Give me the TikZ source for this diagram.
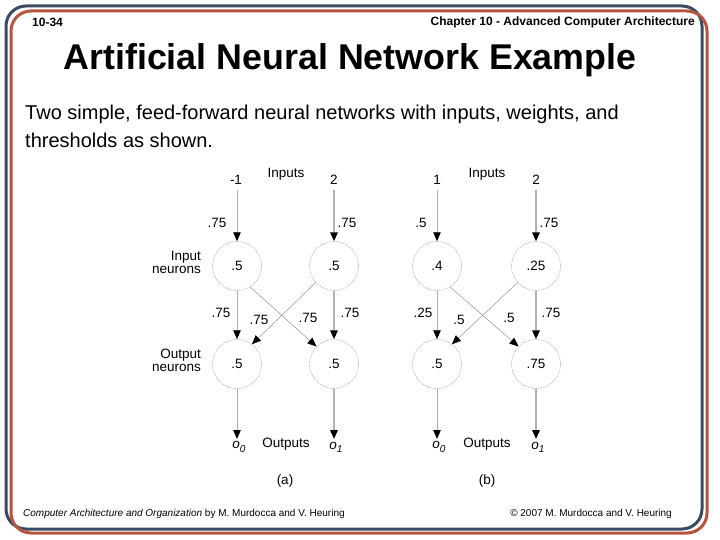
\documentclass[tikz,border=0pt]{standalone}
\usepackage{fontspec}
\setmainfont{Liberation Sans}
\usetikzlibrary{arrows.meta}
\definecolor{frameblue}{HTML}{3A4A64}
\definecolor{framered}{HTML}{B4553F}
\tikzset{
  neuron/.style={circle,draw=gray!70,dash pattern=on 1.5pt off 1pt,line width=0.5pt,minimum size=49pt,inner sep=0pt,font=\fontsize{13.5}{15}\selectfont},
  lbl/.style={inner sep=0pt,font=\fontsize{13.5}{15}\selectfont},
  thinarr/.style={draw=gray!65,line width=0.9pt,-{Triangle[length=9pt,width=7.5pt,color=black]}},
  thickarr/.style={draw=gray!60,line width=1.8pt,-{Triangle[length=9pt,width=7.5pt,color=black]}},
  crossarr/.style={draw=gray!85,line width=0.5pt,-{Triangle[length=9pt,width=7.5pt,color=black]}},
  frameline/.style={line width=3pt,rounded corners=20pt}
}
\newcommand{\osub}[1]{\textit{o}\raisebox{-0.45ex}{\fontsize{10}{12}\selectfont\itshape #1}}
\begin{document}
\begin{tikzpicture}[x=1pt,y=-1pt]
\useasboundingbox (0,0) rectangle (720,540);
% frame
\draw[frameline,frameblue] (6,6) rectangle (702,529);
\draw[frameline,framered] (11,11) rectangle (707,533);
% header
\node[anchor=west,inner sep=0pt,font=\bfseries\fontsize{12}{14}\selectfont] (pg) at (32,22) {10-34};
\node[anchor=east,inner sep=0pt,font=\bfseries\fontsize{12}{14}\selectfont] (ch) at (695,22) {Chapter 10 - Advanced Computer Architecture};
\node[inner sep=0pt,font=\bfseries\fontsize{35.8}{40}\selectfont] (title) at (350,60) {Artificial Neural Network Example};
\node[anchor=west,inner sep=0pt,font=\fontsize{20}{26}\selectfont] (b1) at (25,114) {Two simple, feed-forward neural networks with inputs, weights, and};
\node[anchor=west,inner sep=0pt,font=\fontsize{20}{26}\selectfont] (b2) at (25,140) {thresholds as shown.};
% footer
\node[anchor=west,inner sep=0pt,font=\fontsize{10}{11}\selectfont] (f1) at (23,514) {\textit{Computer Architecture and Organization} by M. Murdocca and V. Heuring};
\node[anchor=east,inner sep=0pt,font=\fontsize{10}{11}\selectfont] (f2) at (672,514) {© 2007 M. Murdocca and V. Heuring};

% ---------- network (a) ----------
\node[neuron] (aiL) at (237,266) {.5};
\node[neuron] (aiR) at (334,266) {.5};
\node[neuron] (aoL) at (237,364) {.5};
\node[neuron] (aoR) at (334,364) {.5};
\node[lbl] (aInL) at (236,180) {-1};
\node[lbl] (aInR) at (334,180) {2};
\node[lbl] (aIn) at (286,174) {Inputs};
\coordinate (aSL) at (237,190);
\coordinate (aSR) at (334,190);
\draw[thinarr] (aSL) -- (aiL);
\draw[thickarr] (aSR) -- (aiR);
\node[lbl] (aw1) at (217,223) {.75};
\node[lbl] (aw2) at (347,223) {.75};
\node[lbl,align=right,anchor=east] (aInN) at (201,262) {Input\\[-2pt]neurons};
\node[lbl,align=right,anchor=east] (aOutN) at (201,360) {Output\\[-2pt]neurons};
\draw[thinarr] (aiL) -- (aoL);
\draw[thickarr] (aiR) -- (aoR);
\draw[crossarr] (aiL.-58) -- (aoR.135);
\draw[crossarr] (aiR.222) -- (aoL.53);
\node[lbl] (aw3) at (221,313) {.75};
\node[lbl] (aw4) at (350,313) {.75};
\node[lbl] (aw5) at (259,320) {.75};
\node[lbl] (aw6) at (308,318) {.75};
\coordinate (aEL) at (237,439);
\coordinate (aER) at (334,439);
\draw[thinarr] (aoL) -- (aEL);
\draw[thickarr] (aoR) -- (aER);
\node[lbl] (ao0) at (239,447) {\osub{0}};
\node[lbl] (ao1) at (336,447) {\osub{1}};
\node[lbl] (aOut) at (286,444) {Outputs};
\node[lbl] (acap) at (285,481) {(a)};

% ---------- network (b) ----------
\node[neuron] (biL) at (437,266) {.4};
\node[neuron] (biR) at (536,266) {.25};
\node[neuron] (boL) at (437,364) {.5};
\node[neuron] (boR) at (536,364) {.75};
\node[lbl] (bInL) at (437,180) {1};
\node[lbl] (bInR) at (536,180) {2};
\node[lbl] (bIn) at (487,174) {Inputs};
\coordinate (bSL) at (437,190);
\coordinate (bSR) at (536,190);
\draw[thinarr] (bSL) -- (biL);
\draw[thickarr] (bSR) -- (biR);
\node[lbl] (bw1) at (421,223) {.5};
\node[lbl] (bw2) at (549,223) {.75};
\draw[thinarr] (biL) -- (boL);
\draw[thickarr] (biR) -- (boR);
\draw[crossarr] (biL.-58) -- (boR.135);
\draw[crossarr] (biR.222) -- (boL.53);
\node[lbl] (bw3) at (423,313) {.25};
\node[lbl] (bw4) at (551,313) {.75};
\node[lbl] (bw5) at (459,320) {.5};
\node[lbl] (bw6) at (509,318) {.5};
\coordinate (bEL) at (437,439);
\coordinate (bER) at (536,439);
\draw[thinarr] (boL) -- (bEL);
\draw[thickarr] (boR) -- (bER);
\node[lbl] (bo0) at (439,447) {\osub{0}};
\node[lbl] (bo1) at (538,447) {\osub{1}};
\node[lbl] (bOut) at (487,444) {Outputs};
\node[lbl] (bcap) at (487,481) {(b)};
\end{tikzpicture}
\end{document}
